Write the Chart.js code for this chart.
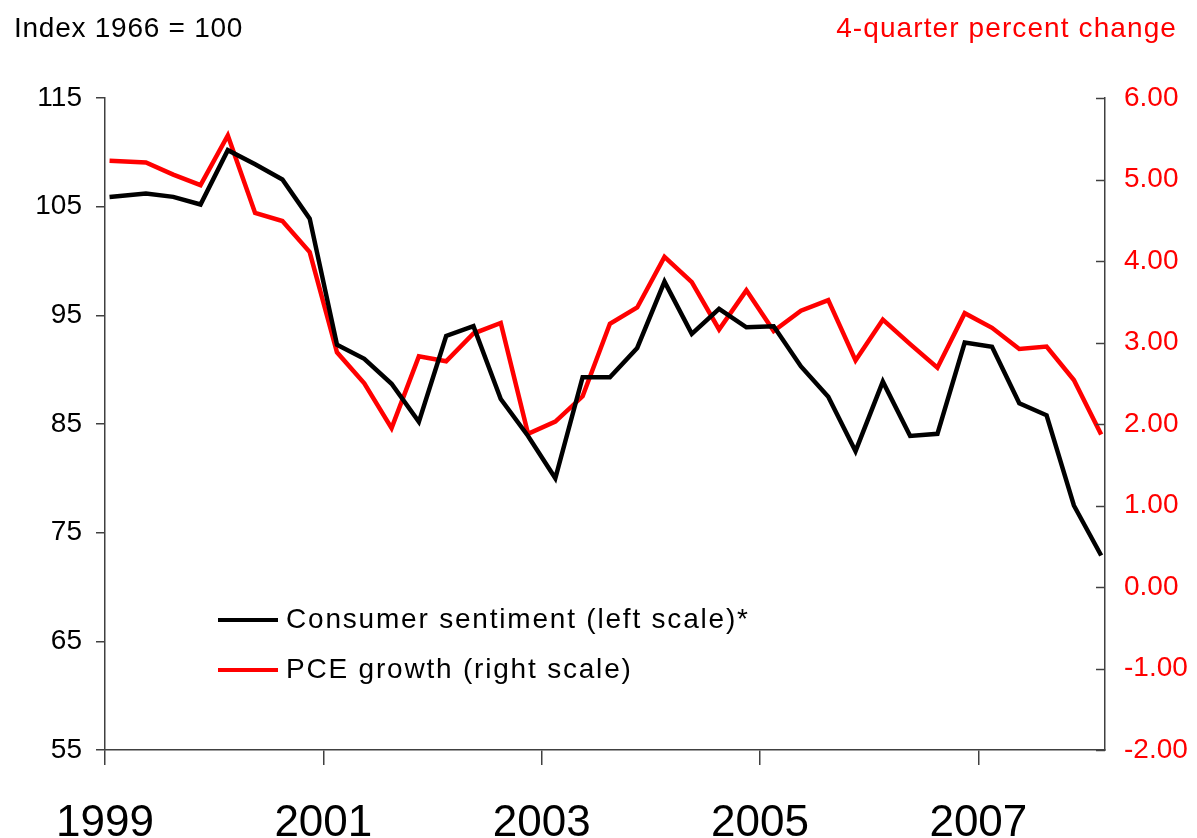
<!DOCTYPE html>
<html>
<head>
<meta charset="utf-8">
<script src="https://cdn.jsdelivr.net/npm/chart.js@4.4.1/dist/chart.umd.min.js"></script>
<style>
  html, body { margin: 0; padding: 0; background: #fff; }
  #wrap { width: 1197px; height: 838px; }
</style>
</head>
<body>
<div id="wrap"><canvas id="lineChart" width="1197" height="838"></canvas></div>
<script>
// observation months (middle month of each quarter, first one is January 1999)
const months = [
  "1999-01", "1999-05", "1999-08", "1999-11",
  "2000-02", "2000-05", "2000-08", "2000-11",
  "2001-02", "2001-05", "2001-08", "2001-11",
  "2002-02", "2002-05", "2002-08", "2002-11",
  "2003-02", "2003-05", "2003-08", "2003-11",
  "2004-02", "2004-05", "2004-08", "2004-11",
  "2005-02", "2005-05", "2005-08", "2005-11",
  "2006-02", "2006-05", "2006-08", "2006-11",
  "2007-02", "2007-05", "2007-08", "2007-11",
  "2008-02"
];

const sentiment = [
  105.9, 106.2, 105.9, 105.2, 110.2, 108.9, 107.5, 103.9,
  92.3, 91.0, 88.7, 85.2, 93.1, 94.0, 87.3, 83.9,
  80.0, 89.3, 89.3, 92.0, 98.1, 93.3, 95.6, 93.9,
  94.0, 90.3, 87.5, 82.5, 88.9, 83.9, 84.1, 92.5,
  92.1, 86.9, 85.8, 77.5, 72.9
];

const pceGrowth = [
  5.23, 5.21, 5.06, 4.93, 5.54, 4.59, 4.49, 4.11,
  2.88, 2.50, 1.95, 2.83, 2.77, 3.11, 3.24, 1.88,
  2.03, 2.34, 3.23, 3.43, 4.05, 3.74, 3.16, 3.64,
  3.14, 3.39, 3.52, 2.78, 3.28, 2.98, 2.69, 3.36,
  3.18, 2.92, 2.95, 2.54, 1.87
];

const yearTicks = [1999, 2001, 2003, 2005, 2007];
const seriesNames = ["Consumer sentiment (left scale)*", "PCE growth (right scale)"];
const leftTitle = "Index 1966 = 100";
const rightTitle = "4-quarter percent change";

const FONT = "'Liberation Sans', Arial, sans-serif";
const RED = "#ff0000";
const AXIS = "#404040";

const toYear = (m) => Number(m.slice(0, 4)) + (Number(m.slice(5, 7)) - 0.5) / 12;

const sentimentPoints = months.map((m, i) => ({ x: toYear(m), y: sentiment[i] }));
const pcePoints = months.map((m, i) => ({ x: toYear(m), y: pceGrowth[i] }));

// titles above the axes and the legend inside the plot
const decorations = {
  id: "decorations",
  afterDraw(chart) {
    const ctx = chart.ctx;
    ctx.save();
    ctx.font = "28px " + FONT;
    ctx.textBaseline = "alphabetic";
    ctx.fillStyle = "#000";
    ctx.textAlign = "left";
    ctx.letterSpacing = "0.75px";
    ctx.fillText(leftTitle, 14, 37);
    ctx.fillStyle = RED;
    ctx.textAlign = "right";
    ctx.letterSpacing = "1.1px";
    ctx.fillText(rightTitle, 1177, 37);

    // inward tick marks on the right axis
    const r = chart.scales.yRight;
    ctx.strokeStyle = AXIS;
    ctx.lineWidth = 1.5;
    r.ticks.forEach((t) => {
      const y = Math.round(r.getPixelForValue(t.value)) + 0.5;
      ctx.beginPath();
      ctx.moveTo(r.left, y);
      ctx.lineTo(r.left - 9, y);
      ctx.stroke();
    });

    // legend
    ctx.textAlign = "left";
    ctx.textBaseline = "middle";
    ctx.fillStyle = "#000";
    ctx.letterSpacing = "1.8px";
    chart.data.datasets.forEach((ds, i) => {
      const y = 620 + i * 50;
      ctx.strokeStyle = ds.borderColor;
      ctx.lineWidth = 4;
      ctx.beginPath();
      ctx.moveTo(218, y);
      ctx.lineTo(278, y);
      ctx.stroke();
      ctx.fillText(ds.label, 286, y);
    });
    ctx.restore();
  },
};

const ctx = document.getElementById("lineChart").getContext("2d");

new Chart(ctx, {
  type: "line",
  data: {
    datasets: [
      {
        label: seriesNames[0],
        data: sentimentPoints,
        borderColor: "#000000",
        borderWidth: 4.5,
        pointRadius: 0,
        tension: 0,
        yAxisID: "yLeft",
      },
      {
        label: seriesNames[1],
        data: pcePoints,
        borderColor: RED,
        borderWidth: 4.5,
        pointRadius: 0,
        tension: 0,
        yAxisID: "yRight",
      },
    ],
  },
  options: {
    responsive: false,
    animation: false,
    layout: { padding: { top: 98, left: 0, right: 0, bottom: 0 } },
    plugins: {
      legend: { display: false },
      tooltip: { enabled: false },
    },
    scales: {
      x: {
        type: "linear",
        min: 1999,
        max: 2008.16,
        afterBuildTicks(axis) {
          axis.ticks = yearTicks.map((v) => ({ value: v }));
        },
        afterFit(axis) {
          axis.height = 88;
        },
        ticks: {
          color: "#000",
          padding: 32,
          maxRotation: 0,
          autoSkip: false,
          font: { family: FONT, size: 44, lineHeight: 1.2 },
          callback: (v) => String(v),
        },
        grid: { drawOnChartArea: false, tickLength: 15, color: AXIS, lineWidth: 1.5 },
        border: { display: true, color: AXIS, width: 1.5 },
      },
      yLeft: {
        position: "left",
        min: 55,
        max: 115,
        afterFit(axis) {
          axis.width = 105;
        },
        ticks: {
          stepSize: 10,
          color: "#000",
          padding: 14,
          font: { family: FONT, size: 28 },
        },
        grid: { drawOnChartArea: false, tickLength: 9, color: AXIS, lineWidth: 1.5 },
        border: { display: true, color: AXIS, width: 1.5 },
      },
      yRight: {
        position: "right",
        min: -2,
        max: 6,
        afterFit(axis) {
          axis.width = 92;
        },
        ticks: {
          stepSize: 1,
          color: RED,
          padding: 19,
          font: { family: FONT, size: 28 },
          callback: (v) => v.toFixed(2),
        },
        grid: { drawOnChartArea: false, drawTicks: false, color: AXIS },
        border: { display: true, color: AXIS, width: 1.5 },
      },
    },
  },
  plugins: [decorations],
});
</script>
</body>
</html>
